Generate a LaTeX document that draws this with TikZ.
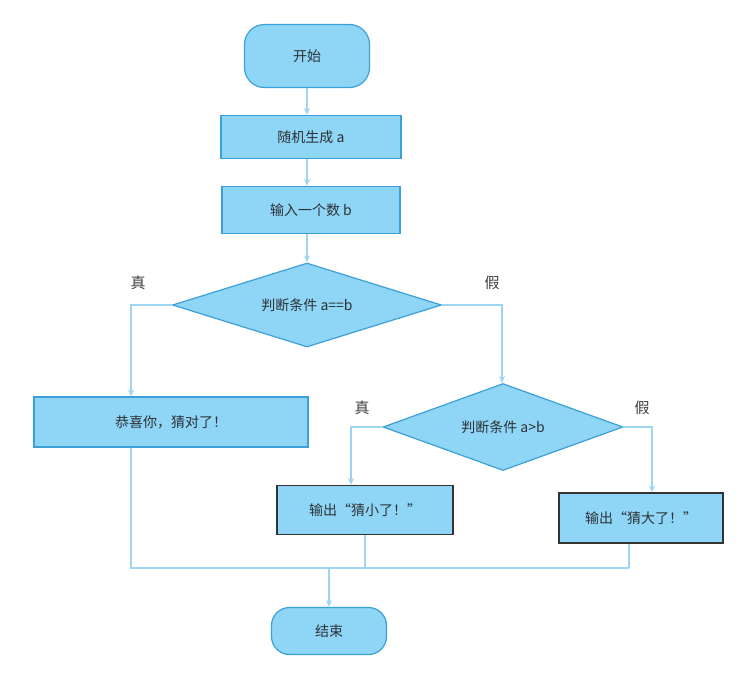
\documentclass[tikz,border=0pt]{standalone}
\usepackage{fontspec}
\setmainfont{Liberation Sans}
\newfontfamily\cjk{Noto Sans CJK SC}
\usetikzlibrary{shapes.geometric,arrows.meta}
\definecolor{boxfill}{RGB}{143,213,245}
\definecolor{boxline}{RGB}{59,160,215}
\definecolor{flow}{RGB}{158,214,242}
\definecolor{txt}{RGB}{45,50,55}
\tikzset{
  x=1pt, y=-1pt,
  every node/.style={font=\cjk\fontsize{14}{16}\selectfont, text=txt},
  term/.style={draw=boxline, fill=boxfill, line width=1.2pt, rounded corners=20pt, inner sep=0pt},
  proc/.style={draw=boxline, fill=boxfill, line width=1.2pt, inner sep=0pt},
  outbox/.style={draw=black!80, fill=boxfill, line width=1.2pt, inner sep=0pt},
  decision/.style={draw=boxline, fill=boxfill, line width=1.2pt, shape=diamond, inner sep=0pt, aspect=3.2},
  flowline/.style={draw=flow, line width=1.6pt},
  arr/.style={flowline, -{Stealth[length=7pt,width=6pt]}},
  lbl/.style={font=\cjk\fontsize{15}{17}\selectfont, text=black!75}
}
\begin{document}
\begin{tikzpicture}
\useasboundingbox (0,0) rectangle (752,673);
\node[term, minimum width=125pt, minimum height=63pt] (start) at (307,56) {开始};
\node[proc, minimum width=180pt, minimum height=43pt] (gen) at (311,137) {随机生成 a};
\node[proc, minimum width=178pt, minimum height=47pt] (inp) at (311,210) {输入一个数 b};
\node[decision, minimum width=269pt, minimum height=84pt] (d1) at (307,305) {判断条件 a==b};
\node[proc, minimum width=274pt, minimum height=50pt] (ok) at (171,422) {恭喜你，猜对了！};
\node[decision, minimum width=240pt, minimum height=87pt] (d2) at (503,427) {判断条件 a>b};
\node[outbox, minimum width=176pt, minimum height=49pt] (small) at (365,510) {输出“猜小了！”};
\node[outbox, minimum width=164pt, minimum height=50pt] (big) at (641,518) {输出“猜大了！”};
\node[term, minimum width=115pt, minimum height=47pt, rounded corners=18pt] (stop) at (329,631) {结束};

\node[lbl] (t1) at (138,283) {真};
\node[lbl] (f1) at (492,283) {假};
\node[lbl] (t2) at (362,408) {真};
\node[lbl] (f2) at (642,408) {假};

\coordinate (j) at (329,568);
\coordinate (jl) at (131,568);
\coordinate (jr) at (629,568);

\draw[arr] (start) -- (start |- gen.north);
\draw[arr] (gen.south -| start) -- (start |- inp.north);
\draw[arr] (inp.south -| start) -- (d1.north);
\draw[arr] (d1.west) -| ([xshift=-40pt]ok.north);
\draw[arr] (d1.east) -| ([xshift=-1pt]d2.north);
\draw[arr] (d2.west) -| ([xshift=-14pt]small.north);
\draw[arr] (d2.east) -| ([xshift=11pt]big.north);
\draw[flowline] ([xshift=-40pt]ok.south) -- (jl) -- (jr);
\draw[flowline] (small.south) -- (small.south |- j);
\draw[flowline] ([xshift=-12pt]big.south) -- (jr);
\draw[arr] (j) -- (stop.north);
\end{tikzpicture}
\end{document}
